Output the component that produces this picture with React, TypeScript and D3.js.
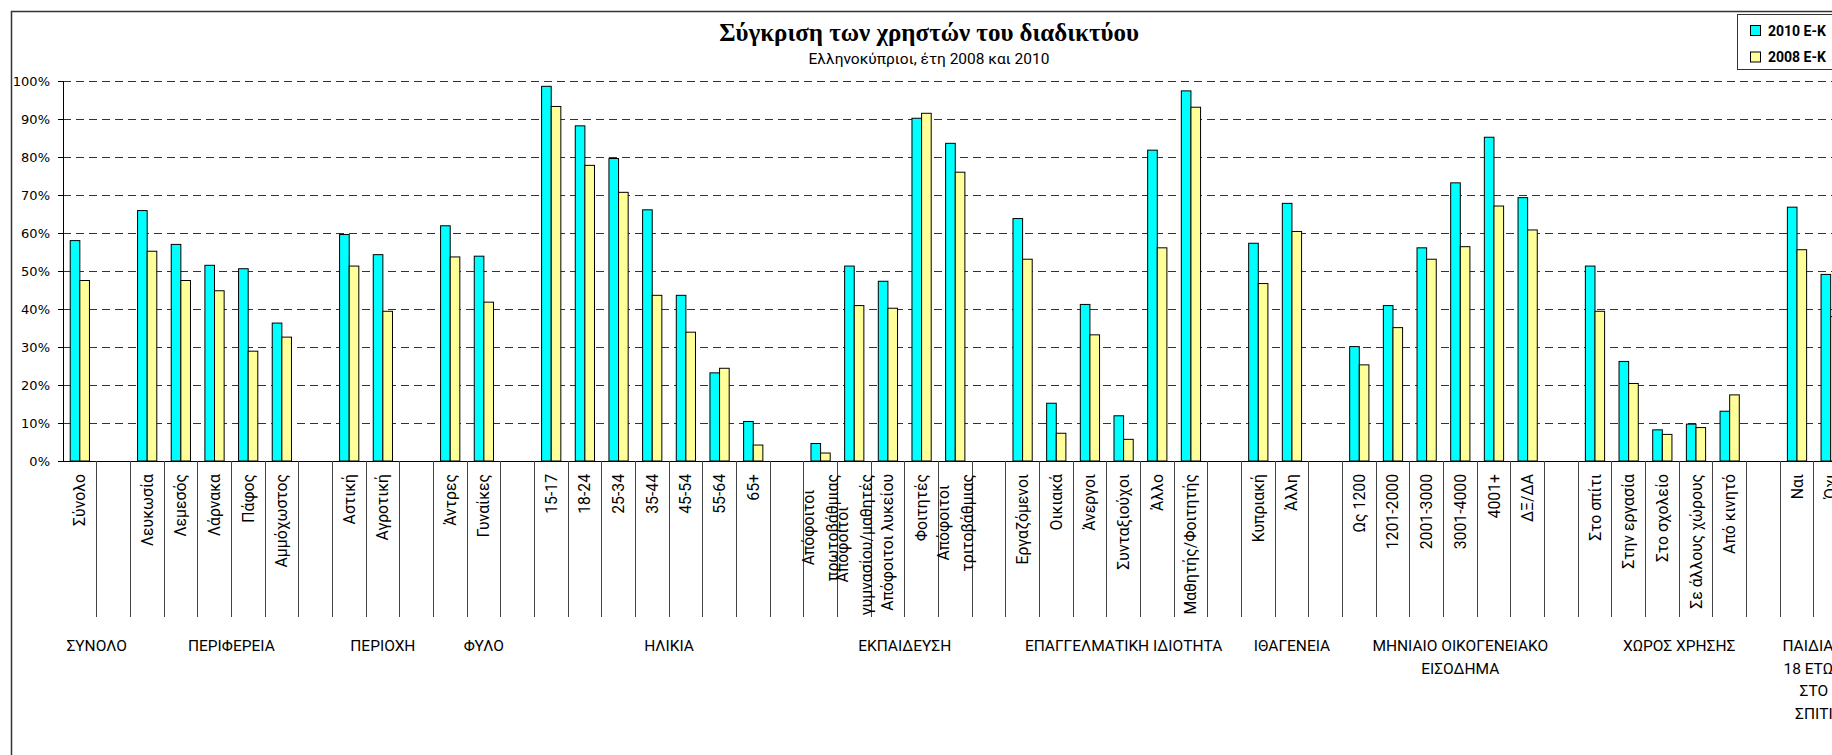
import * as d3 from 'd3';

// categories on the x axis; '' marks the blank slot Excel leaves after each group
const categories = [
  'Σύνολο', '',
  'Λευκωσία', 'Λεμεσός', 'Λάρνακα', 'Πάφος', 'Αμμόχωστος', '',
  'Αστική', 'Αγροτική', '',
  'Άντρες', 'Γυναίκες', '',
  '15-17', '18-24', '25-34', '35-44', '45-54', '55-64', '65+', '',
  'Απόφοιτοι\nπρωτοβάθμιας', 'Απόφοιτοι\nγυμνασίου/μαθητές', 'Απόφοιτοι λυκείου', 'Φοιτητές', 'Απόφοιτοι\nτριτοβάθμιας', '',
  'Εργαζόμενοι', 'Οικιακά', 'Άνεργοι', 'Συνταξιούχοι', 'Άλλο', 'Μαθητής/Φοιτητής', '',
  'Κυπριακή', 'Άλλη', '',
  'Ως 1200', '1201-2000', '2001-3000', '3001-4000', '4001+', 'ΔΞ/ΔΑ', '',
  'Στο σπίτι', 'Στην εργασία', 'Στο σχολείο', 'Σε άλλους χώρους', 'Από κινητό', '',
  'Ναι', 'Όχι',
];

const groups = [
  'ΣΥΝΟΛΟ', 'ΠΕΡΙΦΕΡΕΙΑ', 'ΠΕΡΙΟΧΗ', 'ΦΥΛΟ', 'ΗΛΙΚΙΑ', 'ΕΚΠΑΙΔΕΥΣΗ',
  'ΕΠΑΓΓΕΛΜΑΤΙΚΗ ΙΔΙΟΤΗΤΑ', 'ΙΘΑΓΕΝΕΙΑ', 'ΜΗΝΙΑΙΟ ΟΙΚΟΓΕΝΕΙΑΚΟ\nΕΙΣΟΔΗΜΑ',
  'ΧΩΡΟΣ ΧΡΗΣΗΣ', 'ΠΑΙΔΙΑ <\n18 ΕΤΩΝ\nΣΤΟ\nΣΠΙΤΙ',
];
const groupSizes = [2, 6, 3, 3, 8, 6, 7, 3, 7, 6, 2];

const seriesNames = ['2010 E-K', '2008 E-K'];
const seriesColors = ['#00ffff', '#ffff99'];

const values2010 = [
  58.0, null,
  65.9, 57.0, 51.5, 50.6, 36.3, null,
  59.6, 54.3, null,
  61.9, 53.9, null,
  98.6, 88.2, 79.6, 66.1, 43.6, 23.2, 10.4, null,
  4.6, 51.3, 47.3, 90.2, 83.6, null,
  63.8, 15.2, 41.2, 11.9, 81.8, 97.4, null,
  57.3, 67.8, null,
  30.1, 40.9, 56.1, 73.2, 85.2, 69.3, null,
  51.3, 26.2, 8.2, 9.7, 13.1, null,
  66.8, 49.1,
];
const values2008 = [
  47.5, null,
  55.2, 47.5, 44.8, 28.9, 32.6, null,
  51.3, 39.4, null,
  53.7, 41.8, null,
  93.3, 77.8, 70.7, 43.6, 33.9, 24.4, 4.2, null,
  2.1, 40.9, 40.2, 91.5, 76.0, null,
  53.1, 7.3, 33.2, 5.7, 56.1, 93.1, null,
  46.7, 60.4, null,
  25.3, 35.1, 53.1, 56.4, 67.1, 60.8, null,
  39.4, 20.4, 7.0, 8.8, 17.4, null,
  55.6, 38.0,
];

const yTicks = [0, 10, 20, 30, 40, 50, 60, 70, 80, 90, 100];

const W = 1832;
const H = 755;
const LABEL_FONT = 'Roboto, "Noto Sans", sans-serif';

let ctx: CanvasRenderingContext2D | null = null;
function textWidth(s: string, font: string) {
  if (!ctx) ctx = document.createElement('canvas').getContext('2d');
  if (!ctx) return s.length * 8;
  ctx.font = font;
  return ctx.measureText(s).width;
}

export default function App() {
  const left = 63;
  const slot = 33.67;
  const baseY = 461;
  const topY = 81;
  const tickEnd = 617;
  const groupEnd = 725;

  const x = d3
    .scaleBand<number>()
    .domain(d3.range(categories.length))
    .range([left, left + slot * categories.length])
    .paddingInner(0)
    .paddingOuter(0);
  const xs = d3
    .scaleBand<string>()
    .domain(seriesNames)
    .range([0, x.bandwidth()])
    .paddingInner(0)
    .paddingOuter(0.75);
  const y = d3.scaleLinear().domain([0, 100]).range([baseY, topY]);
  const right = left + slot * categories.length;

  const series = [values2010, values2008];
  const groupStarts = d3.cumsum([0, ...groupSizes]);

  // size the rotated labels so "Απόφοιτοι λυκείου" is about as long as in the original
  const probe = textWidth('Απόφοιτοι λυκείου', `16px ${LABEL_FONT}`);
  const labelSize = Math.min(19, Math.max(13, (16 * 137) / (probe || 120)));
  const labelFont = `${labelSize}px ${LABEL_FONT}`;

  return (
    <div style={{ position: 'absolute', left: 0, top: 0 }}>
      <svg width={W} height={H} style={{ display: 'block', background: '#fff' }}>
        {/* outer chart border */}
        <rect x={11.5} y={11.5} width={1850} height={800} fill="#fff" stroke="#333" strokeWidth={1.5} />

        {/* title */}
        <text
          x={929}
          y={41}
          textAnchor="middle"
          fontFamily='"Liberation Serif", serif'
          fontWeight="bold"
          fontSize={25}
          fill="#000"
        >
          Σύγκριση των χρηστών του διαδικτύου
        </text>
        <text x={929} y={64} textAnchor="middle" fontFamily={LABEL_FONT} fontSize={15.5} fill="#000">
          Ελληνοκύπριοι, έτη 2008 και 2010
        </text>

        {/* gridlines */}
        <g shapeRendering="crispEdges">
          {yTicks.map((t) => (
            <line
              key={`g${t}`}
              x1={left}
              x2={right}
              y1={y(t)}
              y2={y(t)}
              stroke={t === 0 ? 'none' : '#333'}
              strokeDasharray="8 5"
            />
          ))}
        </g>

        {/* bars */}
        <g>
          {series.map((vals, si) =>
            vals.map((v, i) =>
              v == null ? null : (
                <rect
                  key={`b${si}-${i}`}
                  x={(x(i) as number) + (xs(seriesNames[si]) as number)}
                  y={y(v)}
                  width={xs.bandwidth()}
                  height={baseY - y(v)}
                  fill={seriesColors[si]}
                  stroke="#000"
                  strokeWidth={1}
                />
              )
            )
          )}
        </g>

        {/* y axis */}
        <g shapeRendering="crispEdges">
          <line x1={left} x2={left} y1={topY} y2={baseY} stroke="#000" />
          {yTicks.map((t) => (
            <g key={`t${t}`}>
              <line x1={left - 5} x2={left} y1={y(t)} y2={y(t)} stroke="#000" />
              <text
                x={50}
                y={y(t)}
                dy="0.36em"
                textAnchor="end"
                fontFamily='"DejaVu Sans", sans-serif'
                fontSize={13}
                fill="#000"
              >
                {t}%
              </text>
            </g>
          ))}
        </g>

        {/* category axis */}
        <g shapeRendering="crispEdges">
          <line x1={left} x2={right} y1={baseY} y2={baseY} stroke="#000" />
          {categories.map((_, i) => (
            <line
              key={`ct${i}`}
              x1={(x(i) as number) + slot}
              x2={(x(i) as number) + slot}
              y1={baseY}
              y2={tickEnd}
              stroke="#444"
            />
          ))}
          {groupStarts.map((s, gi) => (
            <line
              key={`gl${gi}`}
              x1={left + s * slot}
              x2={left + s * slot}
              y1={baseY}
              y2={groupEnd}
              stroke="#000"
            />
          ))}
        </g>

        {/* category labels, rotated */}
        <g fontFamily={LABEL_FONT} fontSize={labelSize} fill="#000">
          {categories.map((c, i) => {
            if (!c) return null;
            const lines = c.split('\n');
            const maxLen = d3.max(lines, (l) => textWidth(l, labelFont)) as number;
            const cy = 474 + maxLen / 2;
            const cx = (x(i) as number) + slot / 2;
            const lh = 24;
            return lines.map((l, li) => {
              const lx = cx + (li - (lines.length - 1) / 2) * lh;
              return (
                <text
                  key={`cl${i}-${li}`}
                  transform={`translate(${lx},${cy}) rotate(-90)`}
                  textAnchor="middle"
                  dy="0.35em"
                >
                  {l}
                </text>
              );
            });
          })}
        </g>

        {/* group labels */}
        <g fontFamily={LABEL_FONT} fontSize={15.5} fill="#000" textAnchor="middle">
          {groups.map((g, gi) => {
            const gx = left + (groupStarts[gi] + groupSizes[gi] / 2) * slot;
            return g.split('\n').map((l, li) => (
              <text key={`gt${gi}-${li}`} x={gx} y={646 + li * 22.5} dy="0.35em">
                {l}
              </text>
            ));
          })}
        </g>

        {/* legend */}
        <g>
          <rect x={1737.5} y={14.5} width={120} height={55} fill="#fff" stroke="#333" strokeWidth={1} />
          {seriesNames.map((s, si) => (
            <g key={`lg${si}`}>
              <rect x={1750.5} y={25.5 + si * 26.5} width={10} height={10} fill={seriesColors[si]} stroke="#000" />
              <text
                x={1768}
                y={30.5 + si * 26.5}
                dy="0.36em"
                fontFamily={LABEL_FONT}
                fontWeight="bold"
                fontSize={14}
                fill="#000"
              >
                {s}
              </text>
            </g>
          ))}
        </g>
      </svg>
    </div>
  );
}
